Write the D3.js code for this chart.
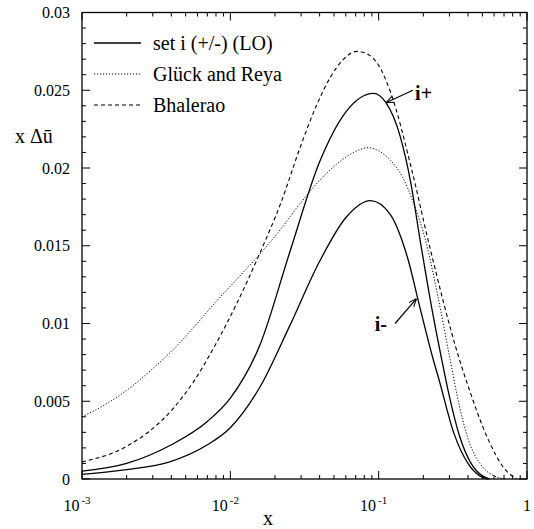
<!DOCTYPE html>
<html>
<head>
<meta charset="utf-8">
<script src="https://cdn.jsdelivr.net/npm/d3@7"></script>
<style>
  body { margin: 0; background: #fff; }
</style>
</head>
<body>
<script>
// series: [x, x*delta-ubar]
var setIPlus = [
  [0.001, 0.0005], [0.002, 0.0010], [0.004, 0.0022], [0.007, 0.0037], [0.01, 0.0052],
  [0.0158, 0.0086], [0.025, 0.0145], [0.04, 0.0204], [0.06, 0.0236], [0.092, 0.0248],
  [0.112, 0.0242], [0.14, 0.0220], [0.165, 0.0190], [0.19, 0.0154], [0.23, 0.0108],
  [0.266, 0.0077], [0.30, 0.0053], [0.35, 0.0028], [0.42, 0.0010], [0.50, 0.0002], [0.56, 0]
];
var setIMinus = [
  [0.001, 0.0003], [0.002, 0.0006], [0.0039, 0.0011], [0.007, 0.0022], [0.01, 0.0033],
  [0.0158, 0.0059], [0.025, 0.0098], [0.04, 0.0140], [0.06, 0.0168], [0.088, 0.0179],
  [0.12, 0.0170], [0.143, 0.0154], [0.158, 0.0141], [0.19, 0.0110], [0.233, 0.0077],
  [0.255, 0.0064], [0.32, 0.0030], [0.40, 0.0010], [0.48, 0.0002], [0.55, 0]
];
var glueckReya = [
  [0.001, 0.0040], [0.0015, 0.0049], [0.002, 0.0057], [0.003, 0.0071], [0.004, 0.0082],
  [0.0056, 0.0097], [0.008, 0.0114], [0.0112, 0.0129], [0.0156, 0.0144], [0.022, 0.0161],
  [0.03, 0.0178], [0.04, 0.0192], [0.05, 0.0201], [0.065, 0.0209], [0.085, 0.0213],
  [0.10, 0.0211], [0.12, 0.0205], [0.145, 0.0194], [0.171, 0.0178], [0.209, 0.0152],
  [0.25, 0.0118], [0.303, 0.0077], [0.35, 0.0047], [0.40, 0.0026], [0.50, 0.0008],
  [0.60, 0.0002], [0.72, 0]
];
var bhalerao = [
  [0.001, 0.0011], [0.002, 0.0021], [0.004, 0.0044], [0.0056, 0.0062], [0.008, 0.0087],
  [0.0112, 0.0114], [0.0156, 0.0144], [0.022, 0.0178], [0.0295, 0.0213], [0.038, 0.0240],
  [0.047, 0.0258], [0.058, 0.0270], [0.0713, 0.0275], [0.085, 0.0273], [0.10, 0.0266],
  [0.12, 0.0249], [0.167, 0.0199], [0.215, 0.0154], [0.35, 0.0077], [0.40, 0.0060],
  [0.55, 0.0025], [0.70, 0.0007], [0.85, 0]
];

var xMajor = [0.001, 0.01, 0.1, 1];
var xMajorExp = ["-3", "-2", "-1", null];
var yMajor = [0, 0.005, 0.01, 0.015, 0.02, 0.025, 0.03];
var yMajorLabels = ["0", "0.005", "0.01", "0.015", "0.02", "0.025", "0.03"];
var legendLabels = ["set i (+/-) (LO)", "Glück and Reya", "Bhalerao"];

var W = 534, H = 529;
var margin = {left: 82, right: 7, top: 12.5, bottom: 50};
var FONT = '"Liberation Serif", "Times New Roman", serif';

var svg = d3.select("body").append("svg")
  .attr("width", W).attr("height", H)
  .style("font-family", FONT);
svg.append("rect").attr("width", W).attr("height", H).attr("fill", "#fff");

var x = d3.scaleLog().domain([0.001, 1]).range([margin.left, W - margin.right]);
var y = d3.scaleLinear().domain([0, 0.03]).range([H - margin.bottom, margin.top]);

var x0 = x.range()[0], x1 = x.range()[1], y0 = y.range()[0], y1 = y.range()[1];

// ticks (inward, on all four sides)
var ticks = svg.append("g").attr("stroke", "#000").attr("stroke-width", 1);
var xMinor = [];
[0.001, 0.01, 0.1].forEach(function(d){ for (var k = 2; k <= 9; k++) xMinor.push(d * k); });
xMajor.forEach(function(d){
  ticks.append("line").attr("x1", x(d)).attr("x2", x(d)).attr("y1", y0).attr("y2", y0 - 8);
  ticks.append("line").attr("x1", x(d)).attr("x2", x(d)).attr("y1", y1).attr("y2", y1 + 8);
});
xMinor.forEach(function(d){
  ticks.append("line").attr("x1", x(d)).attr("x2", x(d)).attr("y1", y0).attr("y2", y0 - 4);
  ticks.append("line").attr("x1", x(d)).attr("x2", x(d)).attr("y1", y1).attr("y2", y1 + 4);
});
d3.range(0, 31).forEach(function(i){
  var v = i / 1000, len = (i % 5 === 0) ? 8 : 4;
  ticks.append("line").attr("x1", x0).attr("x2", x0 + len).attr("y1", y(v)).attr("y2", y(v));
  ticks.append("line").attr("x1", x1).attr("x2", x1 - len).attr("y1", y(v)).attr("y2", y(v));
});

// frame
svg.append("rect")
  .attr("x", x0).attr("y", y1).attr("width", x1 - x0).attr("height", y0 - y1)
  .attr("fill", "none").attr("stroke", "#000").attr("stroke-width", 1.3);

// y tick labels
svg.append("g").selectAll("text")
  .data(yMajor)
  .enter()
  .append("text")
  .attr("x", x0 - 12)
  .attr("y", function(d){ return y(d); })
  .attr("dy", "0.35em")
  .attr("text-anchor", "end")
  .attr("font-size", 16)
  .text(function(d, i){ return yMajorLabels[i]; });

// x tick labels, 10 with a raised exponent
xMajor.forEach(function(d, i){
  var t = svg.append("text")
    .attr("x", x(d) + (xMajorExp[i] ? -5 : 0))
    .attr("y", 511)
    .attr("text-anchor", "middle")
    .attr("font-size", 16);
  t.append("tspan").text(xMajorExp[i] ? "10" : "1");
  if (xMajorExp[i]) {
    t.append("tspan").attr("dx", 2).attr("dy", -7).attr("font-size", 11).text(xMajorExp[i]);
  }
});

// axis titles
svg.append("text").attr("x", 268).attr("y", 525)
  .attr("text-anchor", "middle").attr("font-size", 20).text("x");
svg.append("text").attr("x", 15).attr("y", 143)
  .attr("font-size", 20).text("x \u0394\u016B");

// curves
var line = d3.line()
  .x(function(d){ return x(d[0]); })
  .y(function(d){ return y(d[1]); })
  .curve(d3.curveMonotoneX);

var styles = [
  {data: setIPlus, dash: null, w: 1.3},
  {data: setIMinus, dash: null, w: 1.3},
  {data: glueckReya, dash: "1.2,1.8", w: 1},
  {data: bhalerao, dash: "4,3", w: 1.1}
];
var plot = svg.append("g");
styles.forEach(function(s){
  plot.append("path")
    .attr("d", line(s.data))
    .attr("fill", "none")
    .attr("stroke", "#000")
    .attr("stroke-width", s.w)
    .attr("stroke-dasharray", s.dash);
});

// legend
var legendStyles = [styles[0], styles[2], styles[3]];
var legend = svg.append("g");
legendLabels.forEach(function(lab, i){
  var ly = 43 + i * 31;
  legend.append("line")
    .attr("x1", 94).attr("x2", 141).attr("y1", ly).attr("y2", ly)
    .attr("stroke", "#000").attr("stroke-width", legendStyles[i].w)
    .attr("stroke-dasharray", legendStyles[i].dash);
  legend.append("text").attr("x", 153).attr("y", ly).attr("dy", "0.33em")
    .attr("font-size", 20).text(lab);
});

// arrows for i+ / i-
var defs = svg.append("defs");
defs.append("marker")
  .attr("id", "arr").attr("viewBox", "0 0 10 10").attr("refX", 10).attr("refY", 5)
  .attr("markerWidth", 8).attr("markerHeight", 8).attr("orient", "auto")
  .attr("markerUnits", "userSpaceOnUse")
  .append("path").attr("d", "M0,1 L10,5 L0,9").attr("fill", "none")
  .attr("stroke", "#000").attr("stroke-width", 1.3);

var annotations = [
  {label: "i+", text: [0.176, 0.0244], from: [0.170, 0.0250], to: [0.112, 0.0242]},
  {label: "i-", text: [0.094, 0.0095], from: [0.129, 0.0100], to: [0.180, 0.0116]}
];
annotations.forEach(function(a){
  svg.append("line")
    .attr("x1", x(a.from[0])).attr("y1", y(a.from[1]))
    .attr("x2", x(a.to[0])).attr("y2", y(a.to[1]))
    .attr("stroke", "#000").attr("stroke-width", 1.2)
    .attr("marker-end", "url(#arr)");
  svg.append("text").attr("x", x(a.text[0])).attr("y", y(a.text[1]))
    .attr("font-size", 20).attr("font-weight", "bold").text(a.label);
});
</script>
</body>
</html>
